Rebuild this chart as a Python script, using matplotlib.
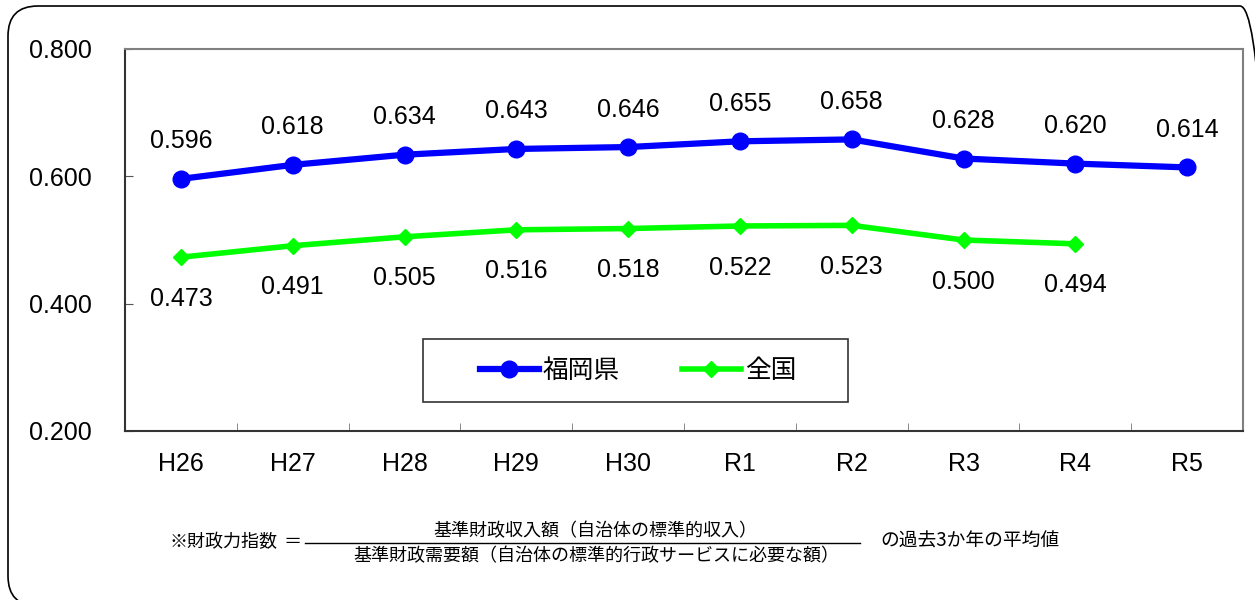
import matplotlib
matplotlib.use("Agg")
import matplotlib.pyplot as plt
from matplotlib.patches import FancyBboxPatch, Rectangle
from matplotlib.lines import Line2D
import numpy as np

plt.rcParams['font.family'] = ['Liberation Sans', 'Noto Sans CJK JP', 'DejaVu Sans']

years = ['H26', 'H27', 'H28', 'H29', 'H30', 'R1', 'R2', 'R3', 'R4', 'R5']
fukuoka = [0.596, 0.618, 0.634, 0.643, 0.646, 0.655, 0.658, 0.628, 0.620, 0.614]
zenkoku = [0.473, 0.491, 0.505, 0.516, 0.518, 0.522, 0.523, 0.500, 0.494]
yticks = [0.2, 0.4, 0.6, 0.8]

W, H = 1255, 600
fig = plt.figure(figsize=(W / 100, H / 100), dpi=100)

ax = fig.add_axes([125 / W, 1 - 431 / H, (1243 - 125) / W, (431 - 49) / H])
x = np.arange(len(years))
xz = np.arange(len(zenkoku))

ax.plot(x, fukuoka, color='#0000ff', lw=4.5, marker='o', ms=12, zorder=3,
        solid_capstyle='round')
ax.plot(xz, zenkoku, color='#00ff00', lw=4, marker='D', ms=8, zorder=3,
        solid_capstyle='round')

for i, v in enumerate(fukuoka):
    ax.annotate(f'{v:.3f}', (i, v), xytext=(0, 27), textcoords='offset points',
                ha='center', va='center', fontsize=18)
for i, v in enumerate(zenkoku):
    ax.annotate(f'{v:.3f}', (i, v), xytext=(0, -30), textcoords='offset points',
                ha='center', va='center', fontsize=18)

ax.set_xlim(-0.5, len(years) - 0.5)
ax.set_ylim(0.2, 0.8)
ax.set_yticks(yticks)
ax.set_yticklabels([f'{t:.3f}' for t in yticks], fontsize=18)
ax.tick_params(axis='y', direction='in', length=6, pad=24, color='#555555')
ax.set_xticks(x)
ax.set_xticklabels(years, fontsize=18)
ax.tick_params(axis='x', which='major', length=0, pad=15)
ax.set_xticks(np.arange(0.5, len(years) - 0.5), minor=True)
ax.tick_params(axis='x', which='minor', direction='in', length=6, color='#777777')

for s in ['top', 'right']:
    ax.spines[s].set_color('#808080')
    ax.spines[s].set_linewidth(1.5)
for s in ['left', 'bottom']:
    ax.spines[s].set_color('#333333')
    ax.spines[s].set_linewidth(1.5)

# overlay in pixel coords (y measured from the top via H - y)
ov = fig.add_axes([0, 0, 1, 1])
ov.set_xlim(0, W)
ov.set_ylim(0, H)
ov.axis('off')
ov.patch.set_alpha(0)

ov.add_patch(FancyBboxPatch((8, H - 606), 1262, 600,
                            boxstyle="round,pad=0,rounding_size=30",
                            fill=False, edgecolor='black', linewidth=1.2,
                            clip_on=False))
ov.add_patch(Rectangle((423, H - 402), 425, 63, facecolor='white',
                       edgecolor='#333333', linewidth=1.2))

handles = [Line2D([], [], color='#0000ff', lw=4.5, marker='o', ms=12),
           Line2D([], [], color='#00ff00', lw=4, marker='D', ms=8)]
leg = ov.legend(handles, ['福岡県', '全国'], loc='center',
                bbox_to_anchor=(638 / W, 1 - 371 / H),
                bbox_transform=fig.transFigure, ncol=2,
                frameon=False, handlelength=2.3,
                columnspacing=2.4, borderpad=0, borderaxespad=0,
                handletextpad=0.15,
                prop={'family': ['Noto Sans CJK JP'], 'size': 18.5})

# formula note
cjk = ['Noto Sans CJK JP', 'DejaVu Sans']
ov.text(170, H - 542, '※財政力指数', fontsize=13, family=cjk,
        ha='left', va='center')
ov.text(293, H - 542, '＝', fontsize=13, family=cjk, ha='center', va='center')
ov.text(595, H - 531, '基準財政収入額（自治体の標準的収入）', fontsize=13,
        family=cjk, ha='center', va='center')
ov.text(596, H - 556, '基準財政需要額（自治体の標準的行政サービスに必要な額）',
        fontsize=13, family=cjk, ha='center', va='center')
ov.plot([305, 860], [H - 543, H - 543], color='black', lw=1)
ov.text(880, H - 541, 'の過去3か年の平均値', fontsize=13.5, family=cjk,
        ha='left', va='center')

fig.savefig('out.png', dpi=100)
